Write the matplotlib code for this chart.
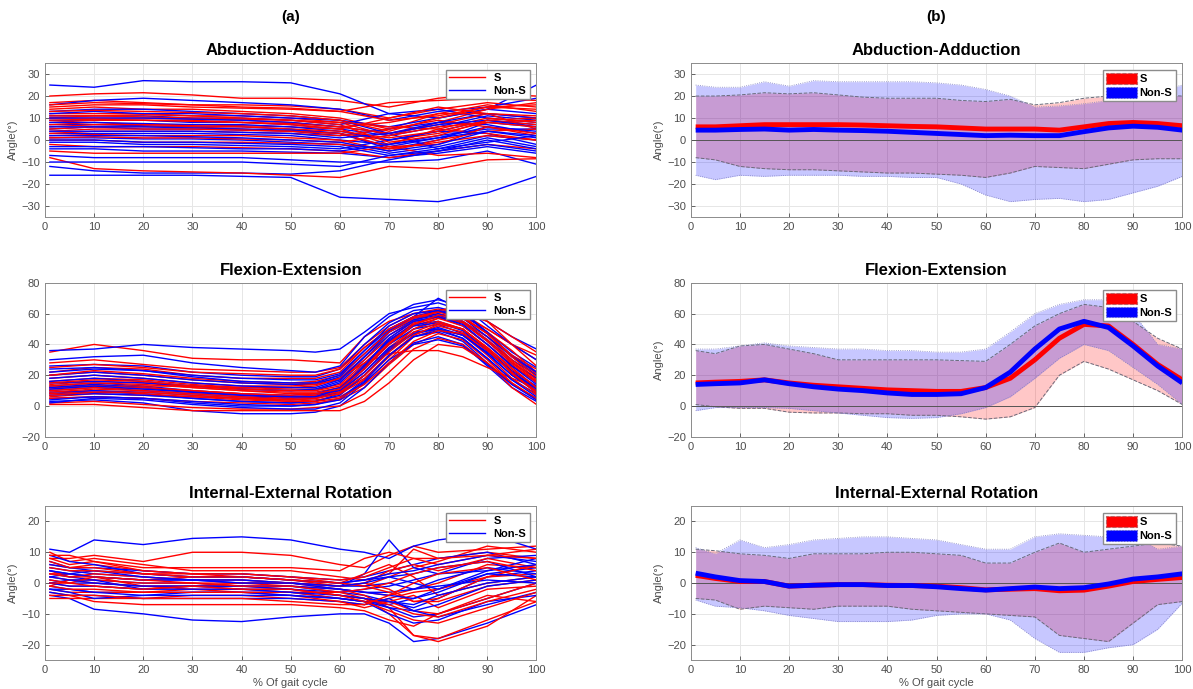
import numpy as np
import matplotlib
matplotlib.use('Agg')
import matplotlib.pyplot as plt
from matplotlib.patches import Patch
from matplotlib.lines import Line2D

plt.rcParams['font.family'] = ['Liberation Sans', 'DejaVu Sans']

# ---------------- data: individual curves (column a) ----------------
x_abd = [1, 10, 20, 30, 40, 50, 60, 70, 80, 90, 100]
abd_s = [
    [20, 21, 21.5, 20.5, 19, 19, 18, 15, 19, 21, 20],
    [17, 18, 17, 16, 16, 15.5, 14, 10, 14, 17, 15],
    [14, 15, 14, 14, 13, 12, 10, 5, 12, 16, 13],
    [12, 12, 12, 11, 11, 10, 8, 2, 8, 14, 17],
    [10, 10, 10, 9.5, 9, 8, 6, 8, 12, 12, 10],
    [8, 9, 9, 9, 8, 7, 5, -2, 5, 10, 8],
    [7, 8, 7, 7, 6.5, 6, 5, 10, 15, 12, 5],
    [5, 6, 6, 6, 5, 4, 3, 0, 3, 8, 9],
    [3, 4, 4, 4, 3.5, 3, 2, 5, 9, 6, 2],
    [2, 2.5, 2, 2, 2, 1, 0, -5, 0, 4, 5],
    [0, 0, -1, -1, -1, -1.5, -2, -4, -1, 2, 0],
    [-2, -3, -3, -3, -3.5, -4, -5, -8, -5, -2, -4],
    [-5, -6, -6, -6, -6, -6, -6, -3, -7, -6, -8],
    [-8, -13, -14, -14.5, -15, -16, -17, -12, -13, -9, -8.5],
    [15, 16, 16, 15, 14.5, 14, 13, 17, 18, 19, 18],
    [10, 11, 10.5, 10, 9.5, 9, 8, 6, 5, 3, 0],
    [13, 13.5, 13, 12.5, 12, 11, 9, 4, 10, 15, 14],
    [9, 9.5, 9, 8.5, 8, 7.5, 6, 3, 7, 12, 11],
    [6, 7, 7, 6.5, 6, 5, 4, 1, 4, 9, 7],
    [4, 5, 5, 5, 4.5, 4, 3, -3, -2, 6, 3],
    [1, 1.5, 1, 1, 0.5, 0, -1, 2, 6, 8, 6],
    [16, 17, 16.5, 16, 15, 14.5, 13, 9, 11, 15, 16],
    [11, 11, 11.5, 11, 10, 9, 7, -1, 2, 9, 10],
]
abd_ns = [
    [25, 24, 27, 26.5, 26.5, 26, 21, 12, 10, 14, 25],
    [16, 18, 19, 18, 17, 16, 14, 9, 13, 15, 19],
    [13, 14, 14, 13, 12, 11, 9, 6, 10, 14, 12],
    [11, 11, 11, 10, 10, 9, 7, 12, 14, 10, 8],
    [9, 9, 9, 8, 8, 7, 5, 2, 6, 11, 9],
    [7, 7, 6.5, 6, 6, 5, 3, -4, 0, 8, 6],
    [5, 6, 5, 5, 4.5, 4, 2, 5, 8, 7, 3],
    [3, 3, 3, 3, 2.5, 2, 0, -2, 2, 5, 5],
    [1, 1, 0.5, 0.5, 0, -1, -2, -6, -3, 2, 0],
    [-1, -1, -2, -2, -2.5, -3, -4, 0, 4, 3, -2],
    [-4, -4, -5, -5, -5, -5.5, -6, -8, -6, -3, -6],
    [-7, -8, -8, -8, -8, -9, -10, -10, -9, -5, -11],
    [-12, -14, -15, -15, -15, -15.5, -14, -9, -5, -2, -5],
    [-16, -16, -16, -16, -16.5, -17, -26, -27, -28, -24, -16.5],
    [-10, -10, -10, -10, -10, -11, -12, -7, -4, 1, -3],
    [12, 13, 12, 12, 11, 10, 9, 3, -4, -1, 2],
    [10, 10, 10, 9.5, 9, 8, 6, 3, 8, 12, 10],
    [8, 8, 7.5, 7, 7, 6, 4, 0, 4, 9, 7],
    [6, 6, 6, 5.5, 5, 4.5, 3, -3, 1, 6, 4],
    [4, 4, 4, 4, 3.5, 3, 1, 3, 7, 9, 6],
    [2, 2, 2, 1.5, 1, 0, -1, -5, -2, 4, 2],
    [0, 0, -1, -1, -1.5, -2, -3, -7, -5, 0, -4],
    [-3, -3, -3, -3.5, -4, -4, -5, -2, 1, 4, 1],
]

x_flex = [1, 10, 20, 30, 40, 50, 55, 60, 65, 70, 75, 80, 85, 90, 95, 100]
flex_s = [
    [35, 40, 36, 31, 30, 30, 29, 28, 45, 55, 60, 62, 58, 50, 40, 33],
    [28, 30, 27, 24, 23, 22, 22, 25, 40, 52, 60, 63, 60, 50, 40, 30],
    [22, 25, 24, 20, 18, 18, 18, 22, 38, 50, 58, 62, 55, 45, 33, 24],
    [20, 22, 20, 17, 15, 14, 15, 18, 32, 46, 56, 60, 57, 48, 36, 22],
    [16, 18, 17, 14, 12, 11, 11, 14, 28, 42, 54, 58, 55, 45, 30, 18],
    [14, 16, 15, 12, 10, 9, 9, 12, 25, 40, 52, 57, 52, 40, 27, 15],
    [12, 14, 12, 10, 8, 7, 8, 10, 22, 38, 50, 55, 50, 38, 25, 12],
    [10, 12, 11, 9, 7, 5, 6, 9, 18, 33, 46, 52, 48, 36, 22, 10],
    [8, 10, 8, 6, 4, 3, 4, 6, 15, 30, 45, 50, 46, 33, 18, 7],
    [5, 6, 5, 3, 2, 1, 2, 4, 12, 27, 40, 47, 43, 30, 15, 4],
    [2, 3, 1, -1, -2, -2, -1, 0, 8, 22, 37, 44, 40, 28, 12, 1],
    [1, 1, -1, -3, -3, -3, -3, -3, 3, 15, 30, 40, 38, 28, 15, 5],
    [12, 13, 13, 13, 12, 12, 13, 18, 28, 34, 36, 36, 32, 25, 18, 12],
    [25, 27, 25, 22, 21, 20, 20, 24, 38, 50, 58, 61, 60, 55, 45, 35],
    [18, 20, 18, 15, 13, 13, 14, 17, 30, 44, 55, 62, 65, 55, 40, 26],
    [6, 8, 7, 6, 5, 4, 5, 8, 20, 36, 50, 57, 54, 42, 28, 16],
    [15, 17, 16, 13, 11, 10, 10, 13, 26, 41, 53, 58, 54, 43, 29, 17],
    [11, 13, 12, 10, 8, 6, 7, 9, 20, 35, 48, 54, 50, 38, 24, 12],
    [9, 11, 10, 8, 6, 4, 5, 8, 17, 32, 46, 53, 50, 37, 21, 9],
    [20, 23, 21, 18, 16, 15, 16, 20, 34, 48, 57, 61, 58, 47, 33, 21],
    [7, 9, 9, 7, 5, 3, 3, 5, 14, 28, 42, 49, 47, 36, 22, 8],
    [13, 15, 14, 12, 10, 8, 8, 11, 24, 40, 53, 59, 57, 47, 32, 19],
]
flex_ns = [
    [36, 37, 40, 38, 37, 36, 35, 37, 48, 60, 64, 67, 62, 55, 45, 37],
    [30, 32, 33, 28, 25, 23, 22, 26, 45, 58, 66, 69, 65, 52, 40, 30],
    [26, 27, 26, 22, 20, 19, 19, 24, 40, 54, 62, 64, 60, 48, 35, 25],
    [20, 22, 20, 17, 15, 14, 14, 19, 34, 49, 57, 60, 55, 43, 30, 20],
    [16, 18, 16, 13, 11, 10, 10, 15, 30, 46, 55, 58, 52, 40, 26, 16],
    [13, 15, 13, 10, 8, 7, 8, 12, 27, 43, 53, 55, 50, 37, 23, 13],
    [10, 12, 10, 8, 6, 5, 6, 10, 24, 40, 50, 53, 47, 34, 20, 10],
    [8, 9, 8, 5, 3, 2, 3, 8, 20, 37, 48, 50, 44, 31, 17, 8],
    [5, 6, 5, 2, 0, 0, 1, 5, 17, 33, 45, 48, 42, 28, 14, 5],
    [3, 4, 2, -3, -5, -5, -4, 0, 12, 28, 41, 45, 40, 26, 12, 3],
    [2, 5, 4, 1, -1, -2, -2, 2, 15, 30, 40, 43, 39, 27, 14, 4],
    [15, 16, 15, 13, 11, 10, 11, 16, 32, 48, 58, 62, 60, 48, 32, 20],
    [22, 24, 23, 20, 18, 17, 17, 21, 36, 50, 58, 70, 62, 47, 33, 22],
    [9, 10, 9, 7, 5, 4, 5, 9, 22, 38, 47, 50, 46, 35, 22, 11],
    [18, 20, 18, 15, 13, 12, 12, 17, 32, 48, 56, 59, 54, 42, 28, 18],
    [12, 14, 12, 9, 7, 6, 7, 11, 26, 42, 52, 54, 49, 36, 22, 12],
    [7, 8, 7, 5, 3, 2, 3, 7, 20, 36, 47, 51, 46, 34, 20, 9],
    [11, 13, 11, 9, 7, 6, 6, 11, 26, 44, 55, 58, 53, 40, 26, 14],
    [4, 6, 5, 3, 1, 0, 1, 4, 16, 33, 45, 49, 44, 31, 17, 6],
    [24, 25, 23, 19, 16, 15, 15, 20, 36, 52, 60, 62, 57, 45, 32, 22],
]

x_rot = [1, 5, 10, 20, 30, 40, 50, 60, 65, 70, 75, 80, 90, 100]
rot_s = [
    [8, 8, 9, 7, 10, 10, 9, 6, 5, 9, 12, 10, 11, 12],
    [10, 7, 8, 6, 4, 4, 4, 2, 1, 3, 11, 8, 10, 8],
    [6, 5, 6, 4, 3, 3, 2, 0, -1, 2, 5, 7, 12, 10],
    [4, 2, 3, 2, 1, 1, 0, -2, -3, -4, -2, 0, 6, 5],
    [2, 1, 1, 0, 0, 0, -1, -2, -4, -8, -17, -18, -12, -6],
    [0, -1, -1, -2, -1, -1, -2, -4, -5, -10, -17, -19, -14, -4],
    [-2, -3, -3, -3, -2, -2, -3, -5, -6, -6, -9, -10, -5, 0],
    [-5, -5, -5, -5, -4, -4, -5, -6, -7, -5, -3, -2, 2, 3],
    [-3, -4, -6, -7, -7, -7, -7, -8, -9, -12, -14, -10, -4, -6],
    [8, 6, 7, 4, 3, 2, 1, -1, 0, 4, 6, 4, 8, 5],
    [3, 3, 2, 1, 2, 2, 1, 0, 3, 6, 2, -4, 0, 2],
    [1, 0, 2, -1, -2, -3, -4, -6, -8, -6, -4, -8, -2, -1],
    [9, 9, 7, 5, 5, 5, 5, 4, 8, 10, 8, 6, 9, 11],
    [-1, 1, 0, -1, -1, 0, 0, -1, 0, -2, -6, -6, -1, 1],
    [5, 4, 4, 3, 2, 2, 1, 0, -1, -3, -6, -5, 2, 6],
    [7, 5, 5, 3, 3, 3, 2, 1, 2, 5, 8, 8, 9, 8],
    [-1, -2, -2, -3, -3, -3, -3, -3, -5, -7, -10, -11, -6, -2],
    [3, 2, 2, 1, 0, -1, -1, -3, -2, 0, 3, 5, 7, 4],
    [0, 0, -1, -2, -1, -2, -2, -4, -6, -9, -12, -13, -8, -3],
    [-4, -4, -4, -5, -5, -5, -6, -7, -7, -4, 0, 3, 5, 1],
]
rot_ns = [
    [11, 10, 14, 12.5, 14.5, 15, 14, 11, 10, 8, 12, 14, 16, 11],
    [-4, -5, -8.5, -10, -12, -12.5, -11, -10, -10, -13, -19, -18, -13, -7],
    [5, 4, 3, 2, 1, 1, 0, -1, 3, 14, 5, 3, 8, 9],
    [3, 2, 1, 0, 0, -1, -1, -3, -4, -6, -8, -5, 2, 4],
    [1, 0, 0, -1, -1, -2, -2, -4, -5, -8, -11, -10, -5, 0],
    [-1, -2, -3, -3, -3, -3, -3, -5, -6, -7, -5, -2, 3, 5],
    [7, 5, 5, 4, 3, 3, 2, 1, 2, 4, 6, 8, 10, 6],
    [2, 3, 2, 1, 1, 0, 0, -1, -1, 0, -2, 1, 5, 3],
    [-3, -4, -4, -5, -5, -5, -5, -6, -7, -5, -9, -11, -7, -3],
    [9, 7, 6, 3, 2, 2, 1, 0, 1, 2, 3, 5, 7, 2],
    [0, 1, 1, -2, -1, -1, -2, -3, -2, -1, 1, 3, 4, 8],
    [4, 3, 4, 2, 1, 1, 0, -2, -3, -3, -2, -1, 1, 0],
    [-2, -3, -5, -4, -4, -4, -4, -5, -6, -10, -13, -12, -6, -4],
    [6, 5, 4, 3, 2, 2, 1, 0, 1, 3, 4, 6, 9, 7],
    [2, 1, 0, -1, -1, -1, -1, -2, -3, -4, -5, -3, 3, 2],
    [-2, -2, -3, -4, -3, -3, -4, -5, -6, -8, -9, -7, -1, 1],
    [4, 3, 2, 1, 1, 0, 0, -1, 0, 2, 0, -2, 4, 6],
    [0, -1, -1, -2, -2, -2, -3, -4, -5, -6, -7, -4, 0, 2],
]

# ---------------- data: means and envelopes (column b) ----------------
x_env = [1, 5, 10, 15, 20, 25, 30, 35, 40, 45, 50, 55, 60, 65, 70, 75, 80, 85, 90, 95, 100]

abd_mean_s = [6, 6, 6.5, 7, 7, 7, 7, 6.8, 6.5, 6.2, 6, 5.5, 5, 5, 5, 4.5, 6, 7.5, 8, 7.5, 6.5]
abd_mean_ns = [4.5, 4.5, 4.8, 5, 4.5, 4.8, 4.5, 4.3, 4, 3.5, 3, 2.5, 2, 2.2, 2, 2, 3.8, 5.5, 6.3, 5.8, 4.5]
abd_up_s = [20, 20, 20.5, 21.5, 21, 21.5, 20.5, 19.5, 19, 19, 19, 18, 17.5, 18.5, 16, 17, 19, 20, 21, 20.5, 20]
abd_lo_s = [-8, -9, -12, -13, -13.5, -13.5, -14, -14.5, -15, -15, -15.5, -16, -17, -15, -12, -12.5, -13, -11, -9, -8.5, -8.5]
abd_up_ns = [25, 24, 24, 26.5, 24.5, 27, 26.5, 26.5, 26.5, 26.5, 26, 25, 23, 20, 15, 15.5, 16.5, 18, 19.5, 22, 25]
abd_lo_ns = [-16, -18, -16, -16.5, -16, -16, -16, -16.5, -16.5, -17, -17, -20, -25, -28, -27, -26.5, -28, -27, -24, -21, -16.5]

flex_mean_s = [15, 15.5, 16, 17, 15, 13.5, 12.5, 11.5, 10.5, 10, 9.5, 9.5, 12, 18, 30, 44, 53, 52, 40, 27, 17]
flex_mean_ns = [14, 14.5, 15, 17, 14.5, 12.5, 11, 10, 8.5, 7.5, 7.5, 8, 12, 22, 37, 50, 55, 51, 39, 26, 15]
flex_up_s = [36, 34, 39, 40, 37, 34, 30, 30, 30, 30, 30, 29.5, 29, 40, 52, 60, 66, 64, 55, 44, 37]
flex_lo_s = [1, -0.5, -1.5, -1.5, -4, -4.5, -4.5, -5, -5, -6, -6, -7, -8.5, -7, -1, 20, 29, 24, 17, 10, 1]
flex_up_ns = [37, 37, 39, 41, 39, 38, 37, 37, 36, 36, 35, 35, 37, 48, 60, 66, 69, 69, 60, 40, 37]
flex_lo_ns = [-3, -1, -1, -1, -1.5, -3, -4.5, -6, -7.5, -8, -7.5, -5, -1, 6, 18, 31, 40, 36, 25, 14, 1]

rot_mean_s = [2.5, 1.5, 0.5, 0.5, -1, -0.7, -0.5, -0.5, -0.7, -0.8, -1, -1.5, -2.2, -2, -1.8, -2.5, -2.3, -1, 0.5, 1.2, 1.8]
rot_mean_ns = [3.2, 2, 0.8, 0.5, -1, -0.7, -0.5, -0.5, -0.8, -0.8, -1.2, -1.8, -2.3, -1.8, -1.3, -1.8, -1.5, -0.3, 1.3, 2, 3]
rot_up_s = [11, 10.5, 9.5, 9, 8, 9.5, 9.5, 9.5, 10, 10, 9.5, 9, 6.5, 6.5, 10, 13, 10, 11, 12, 13, 12]
rot_lo_s = [-5, -5.5, -8.5, -7.5, -8, -8.5, -7.5, -7.5, -7.5, -8.5, -9, -9.5, -10, -10.5, -11, -17, -18, -19, -13, -7, -6]
rot_up_ns = [11.5, 9.5, 14, 11.5, 12.5, 14, 14.5, 15, 15, 14.5, 14, 12.5, 11, 11, 15, 16, 15.5, 15, 15.5, 11, 12]
rot_lo_ns = [-5.5, -7.5, -8, -9, -10.5, -11.5, -12.5, -12.5, -12.5, -12, -10.5, -10, -10, -12, -18, -22.5, -22.5, -21, -20, -15, -6.5]

titles = ['Abduction-Adduction', 'Flexion-Extension', 'Internal-External Rotation']
ylims = [(-35, 35), (-20, 80), (-25, 25)]
yticks = [np.arange(-30, 31, 10), np.arange(-20, 81, 20), np.arange(-20, 21, 10)]

TICK_COLOR = '#4d4d4d'


def style_axes(ax, row, ylabel=True):
    ax.set_xlim(0, 100)
    ax.set_ylim(*ylims[row])
    ax.set_xticks(np.arange(0, 101, 10))
    ax.set_yticks(yticks[row])
    ax.grid(True, color='#e6e6e6', linewidth=0.7)
    ax.set_axisbelow(True)
    ax.tick_params(direction='in', labelsize=8, colors=TICK_COLOR, length=3, width=0.6)
    for s in ax.spines.values():
        s.set_color('#8c8c8c')
        s.set_linewidth(0.7)
    ax.set_title(titles[row], fontsize=12, fontweight='bold', pad=6)
    if ylabel:
        ax.set_ylabel('Angle(°)', fontsize=8, color=TICK_COLOR, labelpad=2)
    if row == 2:
        ax.set_xlabel('% Of gait cycle', fontsize=8, color=TICK_COLOR, labelpad=2)


fig = plt.figure(figsize=(11.93, 6.89), dpi=100)

lefts = [0.0377, 0.579]
bottoms = [0.685, 0.366, 0.042]
w = 0.412
h = 0.2235

groups_a = [(x_abd, abd_s, abd_ns), (x_flex, flex_s, flex_ns), (x_rot, rot_s, rot_ns)]
groups_b = [
    (abd_mean_s, abd_mean_ns, abd_up_s, abd_lo_s, abd_up_ns, abd_lo_ns),
    (flex_mean_s, flex_mean_ns, flex_up_s, flex_lo_s, flex_up_ns, flex_lo_ns),
    (rot_mean_s, rot_mean_ns, rot_up_s, rot_lo_s, rot_up_ns, rot_lo_ns),
]

leg_a = [Line2D([], [], color='red', lw=1.0), Line2D([], [], color='blue', lw=1.0)]
leg_b = [Patch(facecolor='red', edgecolor='#c06060', linestyle='--', linewidth=0.8),
         Patch(facecolor='blue', edgecolor='#6060c0', linestyle=':', linewidth=0.8)]

for row in range(3):
    # column (a): individual subjects
    ax = fig.add_axes([lefts[0], bottoms[row], w, h])
    xs, cs, cns = groups_a[row]
    for i in range(max(len(cs), len(cns))):
        if i < len(cs):
            ax.plot(xs, cs[i], color='red', lw=1.0)
        if i < len(cns):
            ax.plot(xs, cns[i], color='blue', lw=1.0)
    style_axes(ax, row, ylabel=(row != 1))
    ax.legend(leg_a, ['S', 'Non-S'], loc='upper right', prop={'size': 8, 'weight': 'bold'},
              fancybox=False, edgecolor='#8c8c8c', framealpha=1, handlelength=3.2,
              borderaxespad=0.6, labelspacing=0.25, borderpad=0.3)

    # column (b): mean and envelopes
    ax = fig.add_axes([lefts[1], bottoms[row], w, h])
    ms, mns, us, ls, uns, lns = groups_b[row]
    ax.fill_between(x_env, ls, us, color='red', alpha=0.22, lw=0)
    ax.plot(x_env, us, color='#6a6a7a', lw=0.7, ls='--')
    ax.plot(x_env, ls, color='#6a6a7a', lw=0.7, ls='--')
    ax.fill_between(x_env, lns, uns, color='blue', alpha=0.22, lw=0)
    ax.plot(x_env, uns, color='#8080c0', lw=0.6, ls=':')
    ax.plot(x_env, lns, color='#8080c0', lw=0.6, ls=':')
    ax.axhline(0, color='#555555', lw=0.7)
    ax.plot(x_env, ms, color='red', lw=3.5, solid_capstyle='butt')
    ax.plot(x_env, mns, color='blue', lw=3.5, solid_capstyle='butt')
    style_axes(ax, row)
    ax.legend(leg_b, ['S', 'Non-S'], loc='upper right', prop={'size': 8, 'weight': 'bold'},
              fancybox=False, edgecolor='#8c8c8c', framealpha=1, handlelength=2.8,
              handleheight=1.1, handletextpad=0.2, borderaxespad=0.6,
              labelspacing=0.25, borderpad=0.3)

fig.text(lefts[0] + w / 2, 1 - 17 / 689, '(a)', ha='center', va='center', fontsize=11, fontweight='bold')
fig.text(lefts[1] + w / 2, 1 - 17 / 689, '(b)', ha='center', va='center', fontsize=11, fontweight='bold')

fig.savefig('out.png', dpi=100)
